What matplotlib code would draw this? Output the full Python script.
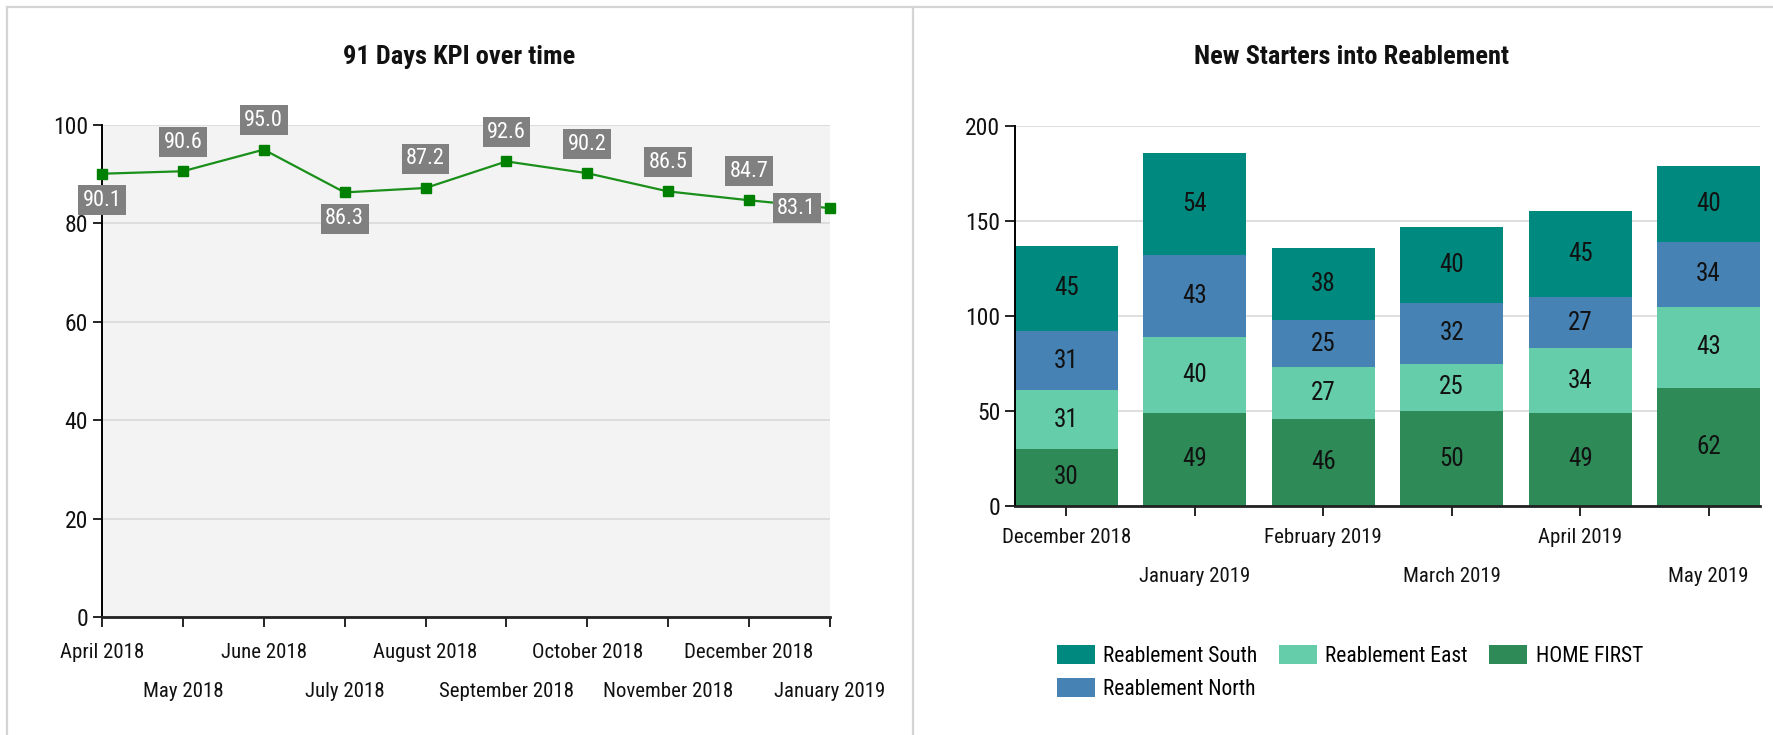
import matplotlib
matplotlib.use("Agg")
import matplotlib.pyplot as plt
from matplotlib import font_manager as fm
from matplotlib.lines import Line2D
from matplotlib.ticker import FixedLocator

# ---------------- data ----------------
kpi_months = ["April 2018", "May 2018", "June 2018", "July 2018", "August 2018",
              "September 2018", "October 2018", "November 2018", "December 2018",
              "January 2019"]
kpi_values = [90.1, 90.6, 95.0, 86.3, 87.2, 92.6, 90.2, 86.5, 84.7, 83.1]

bar_months = ["December 2018", "January 2019", "February 2019", "March 2019",
              "April 2019", "May 2019"]
home_first = [30, 49, 46, 50, 49, 62]
reab_east = [31, 40, 27, 25, 34, 43]
reab_north = [31, 43, 25, 32, 27, 34]
reab_south = [45, 54, 38, 40, 45, 40]

left_title = "91 Days KPI over time"
right_title = "New Starters into Reablement"
left_yticks = [0, 20, 40, 60, 80, 100]
right_yticks = [0, 50, 100, 150, 200]

# ---------------- fonts ----------------
avail = {f.name for f in fm.fontManager.ttflist}
FONT = "Liberation Sans"
for cand in ["Liberation Sans Narrow", "Roboto Condensed", "Open Sans Condensed", "Liberation Sans"]:
    if cand in avail:
        FONT = cand
        break
plt.rcParams["font.family"] = [FONT, "DejaVu Sans"]

W, H = 1773, 735
fig = plt.figure(figsize=(W / 100, H / 100), dpi=100)
fig.patch.set_facecolor("white")

TXT = "#111111"
GRID = "#d9d9d9"

# panel frame lines
frame_kw = dict(color="#d4d4d4", lw=1.6, transform=fig.transFigure)
fig.add_artist(Line2D([7 / W, 1], [1 - 7 / H, 1 - 7 / H], **frame_kw))
fig.add_artist(Line2D([7 / W, 7 / W], [0, 1 - 7 / H], **frame_kw))
fig.add_artist(Line2D([913 / W, 913 / W], [0, 1 - 7 / H], **frame_kw))

# ---------------- left chart ----------------
ax1 = fig.add_axes([102 / W, 1 - 617 / H, 728 / W, 492 / H])
ax1.set_facecolor("#f3f3f3")
x1 = list(range(len(kpi_values)))
ax1.plot(x1, kpi_values, color="#1a8f1a", lw=1.6, marker="s", ms=6.5,
         mfc="#008000", mec="#008000", clip_on=False, zorder=3)
ax1.set_xlim(0, len(kpi_values) - 1)
ax1.set_ylim(0, 100)
ax1.yaxis.set_major_locator(FixedLocator(left_yticks))
ax1.grid(axis="y", color=GRID, lw=1.2)
ax1.set_axisbelow(True)
for s in ["top", "right"]:
    ax1.spines[s].set_visible(False)
ax1.spines["left"].set_linewidth(1.4)
ax1.spines["bottom"].set_linewidth(2.0)
ax1.spines["left"].set_color("black")
ax1.spines["bottom"].set_color("#222222")

ax1.xaxis.set_major_locator(FixedLocator(x1[0::2]))
ax1.xaxis.set_minor_locator(FixedLocator(x1[1::2]))
ax1.set_xticklabels(kpi_months[0::2])
ax1.set_xticklabels(kpi_months[1::2], minor=True)
ax1.tick_params(axis="x", which="major", length=7, width=1.2, pad=12,
                labelsize=15, labelcolor=TXT)
ax1.tick_params(axis="x", which="minor", length=7, width=1.2, pad=40,
                labelsize=15, labelcolor=TXT)
ax1.tick_params(axis="y", length=6.5, width=1.2, pad=3.5, labelsize=17, labelcolor=TXT)

# label placement (offsets in points)
placement = {0: (0, -19), 3: (0, -19), 9: (-24, 0)}
for i, v in enumerate(kpi_values):
    dx, dy = placement.get(i, (0, 21))
    ax1.annotate(f"{v:.1f}", (i, v), xytext=(dx, dy), textcoords="offset points",
                 ha="center", va="center", fontsize=16, color="white",
                 bbox=dict(boxstyle="square,pad=0.2", fc="#808080", ec="none"),
                 zorder=5, annotation_clip=False)

fig.text(459 / W, 1 - 57 / H, left_title, ha="center", va="center",
         fontsize=19, fontweight="bold", color=TXT)

# ---------------- right chart ----------------
ax2 = fig.add_axes([1015 / W, 1 - 506 / H, 745 / W, 380 / H])
x2 = list(range(len(bar_months)))
colors = {"HOME FIRST": "#2e8b57", "Reablement East": "#66cdaa",
          "Reablement North": "#4682b4", "Reablement South": "#00897f"}
series = [("HOME FIRST", home_first), ("Reablement East", reab_east),
          ("Reablement North", reab_north), ("Reablement South", reab_south)]
bottom = [0] * len(x2)
handles = {}
for name, vals in series:
    bc = ax2.bar(x2, vals, width=0.8, bottom=bottom, color=colors[name],
                 label=name, zorder=2)
    ax2.bar_label(bc, labels=[str(v) for v in vals], label_type="center",
                  fontsize=18, color=TXT)
    handles[name] = bc
    bottom = [b + v for b, v in zip(bottom, vals)]

ax2.set_xlim(-0.4, len(x2) - 0.6)
ax2.set_ylim(0, 200)
ax2.yaxis.set_major_locator(FixedLocator(right_yticks))
ax2.grid(axis="y", color=GRID, lw=1.2)
ax2.set_axisbelow(True)
for s in ["top", "right"]:
    ax2.spines[s].set_visible(False)
ax2.spines["left"].set_linewidth(1.4)
ax2.spines["bottom"].set_linewidth(2.0)
ax2.spines["bottom"].set_color("#222222")

ax2.xaxis.set_major_locator(FixedLocator(x2[0::2]))
ax2.xaxis.set_minor_locator(FixedLocator(x2[1::2]))
ax2.set_xticklabels(bar_months[0::2])
ax2.set_xticklabels(bar_months[1::2], minor=True)
ax2.tick_params(axis="x", which="major", length=7, width=1.2, pad=9,
                labelsize=15, labelcolor=TXT)
ax2.tick_params(axis="x", which="minor", length=7, width=1.2, pad=37,
                labelsize=15, labelcolor=TXT)
ax2.tick_params(axis="y", length=7, width=1.2, pad=3.5, labelsize=17, labelcolor=TXT)

order = ["Reablement South", "Reablement North", "Reablement East", "HOME FIRST"]
ax2.legend([handles[n] for n in order], order, loc="upper left",
           bbox_to_anchor=(1057 / W, 1 - 645 / H), bbox_transform=fig.transFigure,
           ncol=3, frameon=False, fontsize=15.5, borderpad=0, borderaxespad=0,
           handlelength=1.75, handleheight=1.0, handletextpad=0.4,
           columnspacing=1.0, labelspacing=0.5)

fig.text(1351 / W, 1 - 57 / H, right_title, ha="center", va="center",
         fontsize=19, fontweight="bold", color=TXT)

fig.savefig("out.png", dpi=100, facecolor="white")
